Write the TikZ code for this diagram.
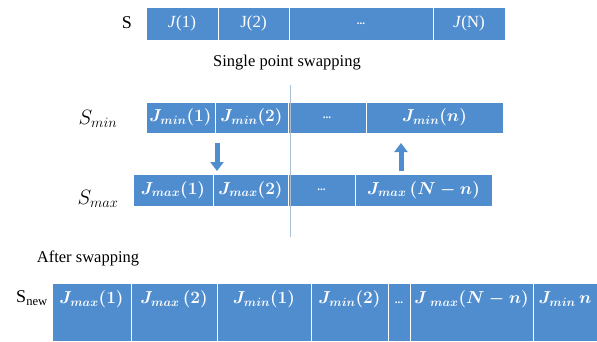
\documentclass[tikz,border=0pt]{standalone}
\usepackage{fontspec}
\setmainfont{Liberation Serif}
\usetikzlibrary{arrows.meta}
\definecolor{cellblue}{RGB}{80,141,206}
\definecolor{guide}{RGB}{170,190,215}
\begin{document}
\begin{tikzpicture}[x=1pt,y=-1pt,
  cell/.style={fill=cellblue,draw=white,line width=0.8pt,inner sep=0pt,text=white,
    font=\fontsize{17}{20}\selectfont\boldmath},
  rowA/.style={cell,minimum height=33pt},
  rowB/.style={cell,minimum height=31pt},
  rowC/.style={cell,minimum height=32pt},
  rowD/.style={cell,minimum height=58pt,text height=13pt,text depth=30pt},
  lbl/.style={inner sep=0pt,font=\fontsize{18}{20}\selectfont},
  mlbl/.style={inner sep=0pt,font=\fontsize{20}{22}\selectfont},
  captext/.style={inner sep=0pt,font=\fontsize{16.5}{19}\selectfont},
  blockarrow/.style={draw=cellblue,line width=5pt,-{Triangle[width=13pt,length=9pt]}},
  dots/.style={font=\fontsize{11}{11}\selectfont\bfseries}
]
\useasboundingbox (0,0) rectangle (597,341);
% Row S
\node[rowA,minimum width=72pt] (s1) at (182,23.5) {\textit{J}(1)};
\node[rowA,minimum width=71pt] (s2) at (253.5,23.5) {J(2)};
\node[rowA,minimum width=144pt,dots] (s3) at (361,23.5) {...};
\node[rowA,minimum width=72pt] (s4) at (469,23.5) {\textit{J}(N)};
\node[lbl] (sl) at (127,23) {S};
\node[captext] (sps) at (287,63) {Single point swapping};
% Row Smin
\node[rowB,minimum width=69pt] (m1) at (180.5,117.5) {$J_{min}(1)$};
\node[rowB,minimum width=73pt] (m2) at (251.5,117.5) {$J_{min}(2)$};
\node[rowB,minimum width=78pt,dots] (m3) at (327,117.5) {...};
\node[rowB,minimum width=137pt] (m4) at (434.5,117.5) {$J_{min}(n)$};
\node[mlbl] (ml) at (98,119) {$S_{min}$};
% Row Smax
\node[rowC,minimum width=80pt] (x1) at (173,190) {$J_{max}(1)$};
\node[rowC,minimum width=75pt] (x2) at (250.5,190) {$J_{max}(2)$};
\node[rowC,minimum width=67pt,dots] (x3) at (321.5,190) {...};
\node[rowC,minimum width=137pt] (x4) at (423.5,190) {$J_{max}\,(N-n)$};
\node[mlbl] (xl) at (98,199) {$S_{max}$};
% guide line
\coordinate (g1) at (290,85);
\coordinate (g2) at (290,237);
\draw[guide,line width=0.6pt] (g1) -- (g2);
% block arrows
\coordinate (d1) at (217,143);
\coordinate (d2) at (217,171);
\coordinate (u1) at (401,171);
\coordinate (u2) at (401,143);
\draw[blockarrow] (d1) -- (d2);
\draw[blockarrow] (u1) -- (u2);
% After swapping
\node[captext] (as) at (88,258) {After swapping};
\node[rowD,minimum width=79pt] (n1) at (91.5,312) {$J_{max}(1)$};
\node[rowD,minimum width=86pt] (n2) at (174,312) {$J_{max}\,(2)$};
\node[rowD,minimum width=94pt] (n3) at (264,312) {$J_{min}(1)$};
\node[rowD,minimum width=77pt] (n4) at (349.5,312) {$J_{min}(2)$};
\node[rowD,minimum width=22pt,dots] (n5) at (399,312) {...};
\node[rowD,minimum width=123pt] (n6) at (471.5,312) {$J\,_{max}(N-n)$};
\node[rowD,minimum width=64pt] (n7) at (565,312) {$J_{min}\,n$};
\node[lbl] (nl) at (32,298) {S\textsubscript{new}};
\end{tikzpicture}
\end{document}
